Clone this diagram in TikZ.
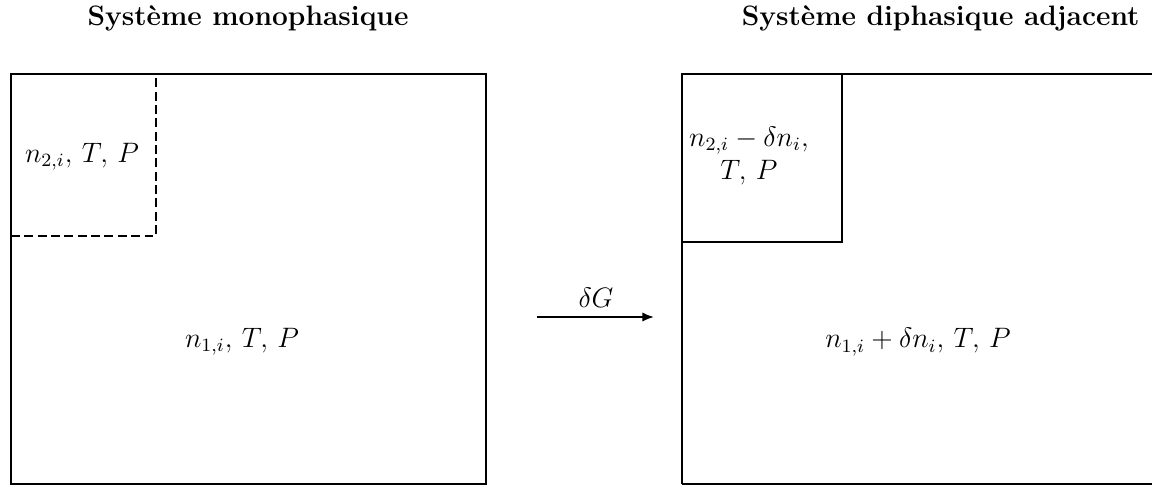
\documentclass[tikz,border=0pt]{standalone}
\usetikzlibrary{arrows.meta}
\begin{document}
\begin{tikzpicture}[x=0.015cm,y=-0.015cm,
  boxline/.style={line width=1.05pt},
  dashline/.style={line width=1.05pt,dash pattern=on 3.8pt off 1.9pt},
  title/.style={font=\large\bfseries,inner sep=0pt},
  lab/.style={anchor=center,inner sep=0pt,font=\large}]
\useasboundingbox (0,0) rectangle (1152,486);
% left system
\draw[boxline] (11,74) rectangle (486,484);
\draw[dashline] (11,236) -- (156,236) -- (156,74);
% right system
\draw[boxline] (682,484) -- (682,74) -- (1160,74);
\draw[boxline] (682,484) -- (1160,484);
\draw[boxline] (682,242) -- (842,242) -- (842,74);
% titles
\node[title,anchor=center] (t1) at (248,18) {Système monophasique};
\node[title,anchor=east] (t2) at (1140,18) {Système diphasique adjacent};
% labels
\node[lab] (a) at (82,157) {$n_{2,i},\, T,\, P$};
\node[lab] (b) at (242,342) {$n_{1,i},\, T,\, P$};
\node[lab,align=center] (c) at (749,156) {$n_{2,i}-\delta n_i,$\\$T,\, P$};
\node[lab] (d) at (918,342) {$n_{1,i}+\delta n_i,\, T,\, P$};
% arrow
\coordinate (s) at (537,317);
\coordinate (e) at (654,317);
\draw[line width=0.8pt,-{Latex[length=5pt,width=4pt]}] (s) -- (e);
\node[lab] (g) at (596,298) {$\delta G$};
\end{tikzpicture}
\end{document}
